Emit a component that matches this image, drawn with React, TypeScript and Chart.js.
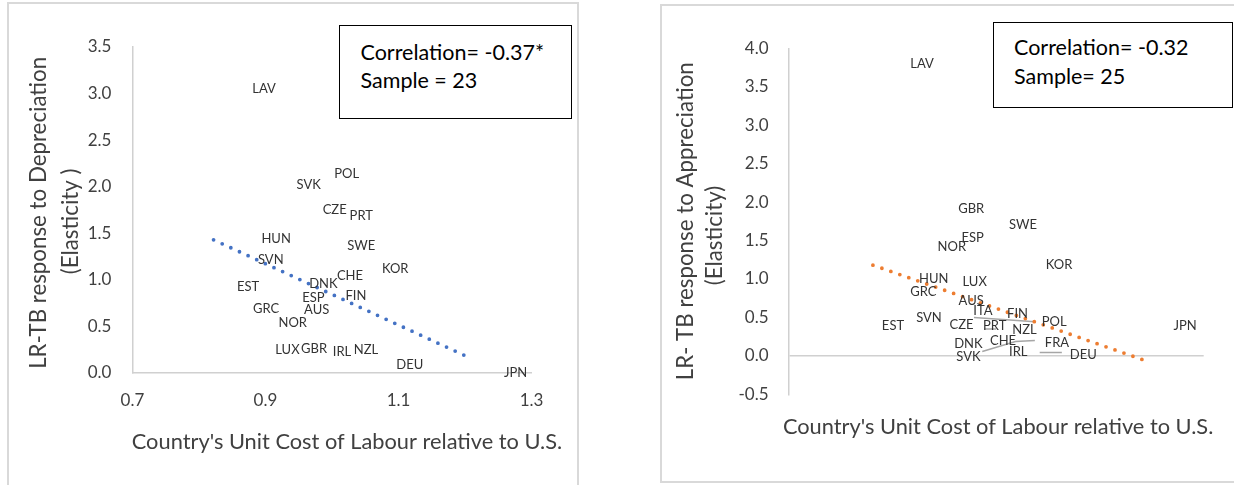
import React, { useEffect, useRef } from "react";
import { Chart, registerables } from "chart.js";

Chart.register(...registerables);
Chart.defaults.font.family = "Lato";

// ---------- Left panel: response to depreciation ----------
const depCountries = ["LAV", "POL", "SVK", "CZE", "PRT", "HUN", "SWE", "SVN", "KOR", "CHE", "DNK", "EST", "FIN", "ESP", "GRC", "AUS", "NOR", "LUX", "GBR", "IRL", "NZL", "DEU", "JPN"];
const depUnitCost = [0.898, 1.022, 0.965, 1.004, 1.044, 0.916, 1.044, 0.908, 1.095, 1.027, 0.987, 0.874, 1.036, 0.972, 0.901, 0.977, 0.941, 0.933, 0.973, 1.015, 1.051, 1.117, 1.276];
const depElasticity = [3.05, 2.14, 2.02, 1.75, 1.69, 1.44, 1.37, 1.21, 1.12, 1.04, 0.96, 0.92, 0.83, 0.81, 0.69, 0.68, 0.54, 0.25, 0.26, 0.23, 0.25, 0.09, 0.0];
const depTrendX = [0.822, 1.211];
const depTrendY = [1.43, 0.15];
const depYTicks = { min: 0, max: 3.5, step: 0.5 };
const depBoxLines = ["Correlation= -0.37*", "Sample = 23"];

// ---------- Right panel: response to appreciation ----------
const appCountries = ["LAV", "GBR", "SWE", "ESP", "NOR", "KOR", "HUN", "LUX", "GRC", "AUS", "ITA", "FIN", "SVN", "POL", "EST", "CZE", "PRT", "NZL", "JPN", "DNK", "CHE", "FRA", "IRL", "DEU", "SVK"];
const appUnitCost = [0.893, 0.964, 1.039, 0.966, 0.936, 1.091, 0.91, 0.969, 0.895, 0.964, 0.981, 1.031, 0.903, 1.084, 0.851, 0.95, 0.998, 1.041, 1.273, 0.96, 1.01, 1.088, 1.032, 1.126, 0.96];
const appElasticity = [3.8, 1.91, 1.71, 1.53, 1.42, 1.19, 1.0, 0.96, 0.83, 0.72, 0.58, 0.55, 0.5, 0.44, 0.39, 0.41, 0.39, 0.34, 0.39, 0.16, 0.2, 0.17, 0.05, 0.02, -0.01];
const appTrendX = [0.822, 1.212];
const appTrendY = [1.18, -0.05];
const appYTicks = { min: -0.5, max: 4.0, step: 0.5 };
const appBoxLines = ["Correlation= -0.32", "Sample= 25"];
// leader lines of moved labels (x, y pairs)
const appLeaderA = [[0.968, 0.5], [1.056, 0.445]];
const appLeaderB = [[0.98, 0.056], [1.028, 0.186], [1.056, 0.199]];
const appLeaderC = [[1.063, 0.043], [1.095, 0.043]];
const appLeaderD = [[0.983, 0.35], [1.0, 0.35]];

const xTickRange = { min: 0.7, max: 1.3, step: 0.2 };
const xTitle = "Country's Unit Cost of Labour relative to U.S.";
const depYTitle = ["LR-TB response to Depreciation ", "(Elasticity )    "];
const appYTitle = ["LR- TB response to Appreciation", "(Elasticity)     "];

const AXIS = "#d0d0d0";
const TEXT = "#404040";

type PanelOpts = {
  labels: string[];
  xs: number[];
  ys: number[];
  trendX: number[];
  trendY: number[];
  trendColor: string;
  yRange: { min: number; max: number; step: number };
  yTitle: string[];
  xTitleDx: number;
  xTitleDy: number;
  leaders: number[][][];
  padTop: number;
  padRight: number;
  yWidth: number;
  yTitlePadTop: number;
  yTitleLine: number;
  yTickPad: number;
  xHeight: number;
  xTickPad: number;
  xBorder: boolean;
  zeroLine: boolean;
};

function buildConfig(o: PanelOpts): any {
  const labelPlugin = {
    id: "countryLabels",
    afterDatasetsDraw(chart: any) {
      const ctx = chart.ctx;
      const meta = chart.getDatasetMeta(0);
      ctx.save();
      ctx.font = "13px Lato";
      ctx.fillStyle = "#333333";
      ctx.textAlign = "center";
      ctx.textBaseline = "middle";
      meta.data.forEach((el: any, i: number) => {
        ctx.fillText(o.labels[i], el.x, el.y);
      });
      ctx.restore();
    },
  };
  // horizontal axis title (drawn without Chart.js's max-width squeeze)
  const xTitlePlugin = {
    id: "xAxisTitle",
    afterDraw(chart: any) {
      const ctx = chart.ctx;
      const a = chart.chartArea;
      ctx.save();
      ctx.font = "21.8px Lato";
      ctx.fillStyle = TEXT;
      ctx.textAlign = "center";
      ctx.textBaseline = "middle";
      ctx.fillText(xTitle, (a.left + a.right) / 2 + o.xTitleDx, a.bottom + o.xTitleDy);
      ctx.restore();
    },
  };
  const datasets: any[] = [
    {
      label: "countries",
      data: o.xs.map((x, i) => ({ x, y: o.ys[i] })),
      pointRadius: 0,
      showLine: false,
    },
    {
      label: "trend",
      data: o.trendX.map((x, i) => ({ x, y: o.trendY[i] })),
      showLine: true,
      borderColor: o.trendColor,
      borderWidth: 3.8,
      borderDash: [0, 9.5],
      borderCapStyle: "round",
      pointRadius: 0,
      fill: false,
    },
  ];
  o.leaders.forEach((seg, k) => {
    datasets.push({
      label: "leader" + k,
      data: seg.map((p) => ({ x: p[0], y: p[1] })),
      showLine: true,
      borderColor: "#a6a6a6",
      borderWidth: 1.5,
      pointRadius: 0,
      fill: false,
    });
  });
  return {
    type: "scatter",
    data: { datasets },
    plugins: [labelPlugin, xTitlePlugin],
    options: {
      responsive: false,
      animation: false,
      devicePixelRatio: 1,
      layout: { padding: { top: o.padTop, right: o.padRight, left: 0, bottom: 0 } },
      plugins: { legend: { display: false }, tooltip: { enabled: false } },
      scales: {
        x: {
          type: "linear",
          min: xTickRange.min,
          max: xTickRange.max,
          ticks: {
            stepSize: xTickRange.step,
            callback: (v: any) => Number(v).toFixed(1),
            font: { size: 17 },
            color: TEXT,
            padding: o.xTickPad,
            maxRotation: 0,
          },
          grid: { display: false, drawTicks: false },
          border: { display: o.xBorder, color: AXIS, width: 1.5 },
          title: { display: false },
          afterFit: (s: any) => {
            s.height = o.xHeight;
          },
        },
        y: {
          type: "linear",
          min: o.yRange.min,
          max: o.yRange.max,
          ticks: {
            stepSize: o.yRange.step,
            callback: (v: any) => Number(v).toFixed(1),
            font: { size: 17 },
            color: TEXT,
            padding: o.yTickPad,
          },
          grid: {
            display: o.zeroLine,
            drawTicks: false,
            lineWidth: 1.5,
            color: (c: any) => (c.tick && Math.abs(c.tick.value) < 1e-9 ? AXIS : "rgba(0,0,0,0)"),
          },
          border: { display: true, color: AXIS, width: 1.5 },
          title: {
            display: true,
            text: o.yTitle,
            font: { size: 22.3, lineHeight: o.yTitleLine + "px" },
            color: TEXT,
            padding: { top: o.yTitlePadTop, bottom: 0 },
          },
          afterFit: (s: any) => {
            s.width = o.yWidth;
          },
        },
      },
    },
  };
}

function Panel(props: { left: number; width: number; height: number; opts: PanelOpts }) {
  const ref = useRef<HTMLCanvasElement>(null);
  useEffect(() => {
    const chart = new Chart(ref.current as HTMLCanvasElement, buildConfig(props.opts));
    return () => chart.destroy();
  }, []);
  return (
    <canvas
      ref={ref}
      width={props.width}
      height={props.height}
      style={{ position: "absolute", left: props.left, top: 0, width: props.width, height: props.height }}
    />
  );
}

function TextBox(props: { left: number; top: number; width: number; height: number; padTop: number; padLeft: number; lineH: number; lines: string[] }) {
  return (
    <div
      style={{
        position: "absolute",
        left: props.left,
        top: props.top,
        width: props.width,
        height: props.height,
        boxSizing: "border-box",
        border: "1.5px solid #000",
        background: "#fff",
        paddingTop: props.padTop,
        paddingLeft: props.padLeft,
        fontFamily: "Lato",
        fontSize: 21.5,
        lineHeight: props.lineH + "px",
        color: "#000",
        whiteSpace: "pre",
      }}
    >
      {props.lines.map((l, i) => (
        <div key={i}>{l}</div>
      ))}
    </div>
  );
}

const leftOpts: PanelOpts = {
  labels: depCountries,
  xs: depUnitCost,
  ys: depElasticity,
  trendX: depTrendX,
  trendY: depTrendY,
  trendColor: "#4472C4",
  yRange: depYTicks,
  yTitle: depYTitle,
  xTitleDx: 15,
  xTitleDy: 69,
  leaders: [],
  padTop: 47,
  padRight: 600 - 531.6,
  yWidth: 132.4,
  yTitlePadTop: 22.7,
  yTitleLine: 32,
  yTickPad: 21,
  xHeight: 485 - 373,
  xTickPad: 17.4,
  xBorder: true,
  zeroLine: false,
};

const rightOpts: PanelOpts = {
  labels: appCountries,
  xs: appUnitCost,
  ys: appElasticity,
  trendX: appTrendX,
  trendY: appTrendY,
  trendColor: "#ED7D31",
  yRange: appYTicks,
  yTitle: appYTitle,
  xTitleDx: 2,
  xTitleDy: 32.7,
  leaders: [appLeaderA, appLeaderB, appLeaderC, appLeaderD],
  padTop: 48.3,
  padRight: 614 - 583.7,
  yWidth: 168.5,
  yTitlePadTop: 51.5,
  yTitleLine: 29,
  yTickPad: 20,
  xHeight: 485 - 394.3,
  xTickPad: -21.9,
  xBorder: false,
  zeroLine: true,
};

export default function App() {
  return (
    <div style={{ position: "absolute", left: 0, top: 0, width: 1234, height: 485, overflow: "hidden", background: "#fff" }}>
      <div style={{ position: "absolute", left: 7, top: 2, width: 572, height: 520, boxSizing: "border-box", border: "2px solid #d9d9d9" }} />
      <div style={{ position: "absolute", left: 660, top: 4, width: 640, height: 479, boxSizing: "border-box", border: "2px solid #d9d9d9" }} />
      <Panel left={0} width={600} height={485} opts={leftOpts} />
      <Panel left={620} width={614} height={485} opts={rightOpts} />
      <TextBox left={339} top={25} width={233} height={94} padTop={11.5} padLeft={20.5} lineH={28} lines={depBoxLines} />
      <TextBox left={993} top={22} width={240} height={86} padTop={10} padLeft={20} lineH={29} lines={appBoxLines} />
    </div>
  );
}
